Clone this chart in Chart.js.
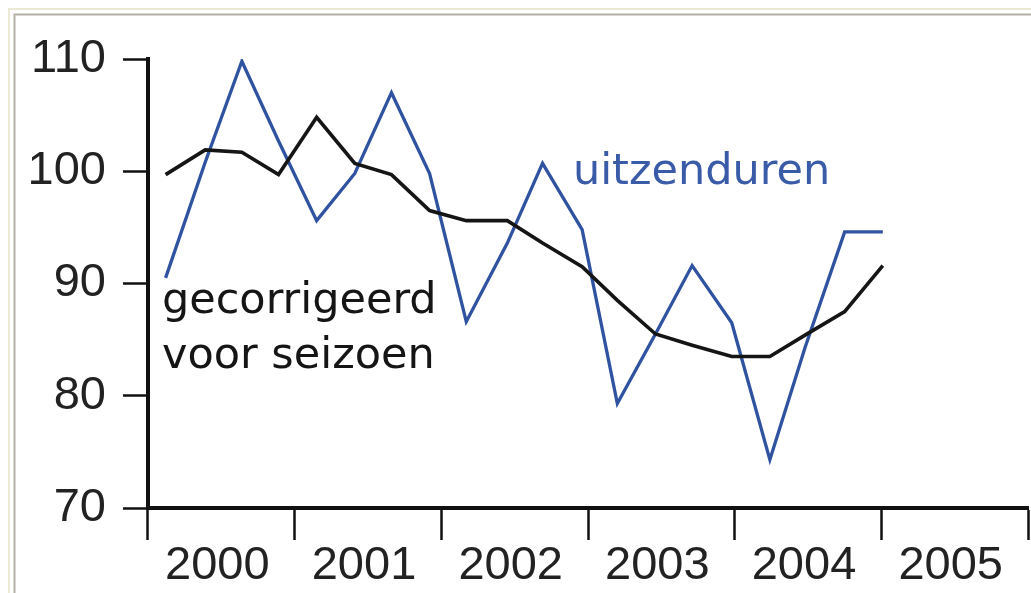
<!DOCTYPE html>
<html>
<head>
<meta charset="utf-8">
<script src="https://cdn.jsdelivr.net/npm/chart.js@4/dist/chart.umd.min.js"></script>
<style>
html,body{margin:0;padding:0;background:#ffffff;}
canvas{display:block;}
</style>
</head>
<body>
<canvas id="c" width="1031" height="593"></canvas>
<script>
// ---- data ----
const yearLabels = ['2000','2001','2002','2003','2004','2005'];
const periods = [2000.12, 2000.39, 2000.64, 2000.89, 2001.15, 2001.41, 2001.66, 2001.92, 2002.17, 2002.45,
                 2002.69, 2002.96, 2003.20, 2003.46, 2003.71, 2003.98, 2004.24, 2004.48, 2004.75, 2005.01];
const uitzenduren = [90.5, 100.8, 109.8, 102.7, 95.6, 99.8, 107.0, 99.8, 86.6, 93.6,
                     100.7, 94.8, 79.3, 85.5, 91.6, 86.5, 74.3, 84.3, 94.6, 94.6];
const gecorrigeerd = [99.7, 101.9, 101.7, 99.7, 104.8, 100.7, 99.7, 96.5, 95.6, 95.6,
                      93.6, 91.5, 88.5, 85.5, 84.5, 83.5, 83.5, 85.4, 87.5, 91.6];
const yTicks = [70, 80, 90, 100, 110];
const seriesLabels = ['uitzenduren', 'gecorrigeerd voor seizoen'];

const BLUE = '#2f53a0';
const TEXT_BLUE = '#3a5ba8';
const BLACK = '#151515';

const toPts = (vals) => vals.map((v, i) => ({x: periods[i], y: v}));

const framePlugin = {
  id: 'frame',
  beforeDraw(chart) {
    const ctx = chart.ctx;
    ctx.save();
    ctx.fillStyle = '#ffffff';
    ctx.fillRect(0, 0, chart.width, chart.height);
    ctx.lineWidth = 2;
    ctx.strokeStyle = '#ece8d6';
    ctx.beginPath();
    ctx.moveTo(9, chart.height); ctx.lineTo(9, 9); ctx.lineTo(chart.width, 9);
    ctx.stroke();
    ctx.strokeStyle = '#b3b0a6';
    ctx.beginPath();
    ctx.moveTo(14.5, chart.height); ctx.lineTo(14.5, 14.5); ctx.lineTo(chart.width, 14.5);
    ctx.stroke();
    ctx.restore();
  }
};

const textPlugin = {
  id: 'seriesText',
  afterDatasetsDraw(chart) {
    const ctx = chart.ctx;
    const xs = chart.scales.xq, ys = chart.scales.y;
    ctx.save();
    ctx.font = '43px "DejaVu Sans", "Noto Sans", sans-serif';
    ctx.textBaseline = 'alphabetic';
    ctx.textAlign = 'left';
    ctx.fillStyle = TEXT_BLUE;
    ctx.fillText(seriesLabels[0], xs.getPixelForValue(2002.897), ys.getPixelForValue(98.9));
    ctx.fillStyle = BLACK;
    const parts = seriesLabels[1].split(' ');
    ctx.fillText(parts[0], xs.getPixelForValue(2000.095), ys.getPixelForValue(87.4));
    ctx.fillText(parts.slice(1).join(' '), xs.getPixelForValue(2000.095), ys.getPixelForValue(82.5));
    ctx.restore();
  }
};

new Chart(document.getElementById('c'), {
  type: 'line',
  data: {
    labels: yearLabels,
    datasets: [
      { label: seriesLabels[1], data: toPts(gecorrigeerd), xAxisID: 'xq', borderColor: BLACK, borderWidth: 3.6,
        pointRadius: 0, tension: 0, fill: false },
      { label: seriesLabels[0], data: toPts(uitzenduren), xAxisID: 'xq', borderColor: BLUE, borderWidth: 3.3,
        pointRadius: 0, tension: 0, fill: false }
    ]
  },
  options: {
    responsive: false,
    animation: false,
    events: [],
    layout: { padding: { top: 59, right: 3, left: 0, bottom: 0 } },
    plugins: { legend: { display: false }, tooltip: { enabled: false } },
    scales: {
      xq: { type: 'linear', min: 2000, max: 2006, display: false },
      x: {
        type: 'category',
        position: 'bottom',
        offset: true,
        afterFit(scale) { scale.height = 85; },
        grid: { offset: true, drawOnChartArea: false, tickLength: 32, tickWidth: 2.5, tickColor: '#111', color: '#111' },
        border: { display: true, color: '#111', width: 4 },
        ticks: { color: '#222', padding: -2, labelOffset: -4, font: { family: '"Liberation Sans", Arial, sans-serif', size: 47 }, maxRotation: 0, autoSkip: false }
      },
      y: {
        min: 70, max: 110,
        afterBuildTicks(scale) { scale.ticks = yTicks.map(v => ({value: v})); },
        afterFit(scale) { scale.width = 148; },
        grid: { drawOnChartArea: false, tickLength: 25, tickWidth: 2.5, tickColor: '#111', color: '#111' },
        border: { display: true, color: '#111', width: 4 },
        ticks: { color: '#222', padding: 17, font: { family: '"Liberation Sans", Arial, sans-serif', size: 47 } }
      }
    }
  },
  plugins: [framePlugin, textPlugin]
});
</script>
</body>
</html>
